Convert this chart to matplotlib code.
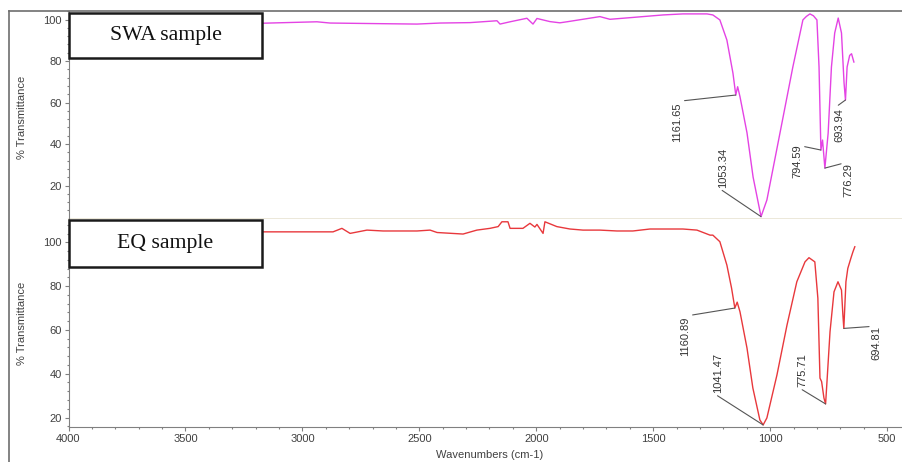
import numpy as np
import matplotlib
matplotlib.use("Agg")
import matplotlib.pyplot as plt
from matplotlib.lines import Line2D
from matplotlib.patches import Rectangle
from matplotlib.ticker import MultipleLocator

# ---------------- data ----------------
swa_wn = [4000, 3800, 3600, 3400, 3173, 2938, 2882, 2668, 2510, 2411, 2283, 2168, 2155,
          2112, 2040, 2014, 1997, 1942, 1899, 1869, 1728, 1685, 1587, 1458, 1373, 1270,
          1245, 1215, 1185, 1159, 1147, 1139, 1129, 1099, 1073, 1039, 1014, 958, 903,
          860, 845, 830, 815, 800, 791, 783, 776, 766, 752, 738, 724, 709, 695, 684,
          678, 671, 660, 652, 642]
swa_t = [98.0, 98.3, 97.9, 98.2, 98.2, 98.9, 98.3, 98.0, 97.8, 98.3, 98.5, 99.4, 97.8,
         98.9, 100.6, 97.8, 100.5, 99.0, 98.4, 98.9, 101.4, 100.1, 101.0, 102.2, 102.7, 102.7,
         102.2, 99.8, 90.1, 74.1, 63.6, 67.6, 62.8, 45.4, 24.1, 5.0, 13.0, 45.3, 77.1,
         99.8, 101.5, 102.7, 101.8, 99.8, 77.1, 37.1, 41.9, 28.4, 45.3, 77.1, 93.5, 100.7, 93.5, 69.4,
         61.2, 77.1, 82.7, 83.5, 79.5]

eq_wn = [4000, 3600, 3168, 2869, 2831, 2796, 2724, 2655, 2510, 2454, 2424, 2313, 2254,
         2198, 2163, 2147, 2121, 2112, 2057, 2027, 2006, 1997, 1971, 1963, 1912, 1856,
         1800, 1728, 1655, 1587, 1514, 1373, 1313, 1257, 1245, 1215, 1185, 1165, 1151,
         1141, 1129, 1099, 1074, 1044, 1030, 1014, 971, 928, 886, 851, 834, 809, 796,
         787, 780, 770, 763, 757, 744, 727, 710, 695, 689, 685, 676, 668, 655, 646, 638]
eq_t = [104.8, 104.8, 104.8, 104.8, 106.4, 104.1, 105.6, 105.2, 105.2, 105.6, 104.5, 103.8, 105.6,
        106.4, 107.2, 109.4, 109.4, 106.4, 106.4, 108.7, 107.0, 108.2, 104.1, 109.4, 107.2, 106.1,
        105.6, 105.6, 105.2, 105.2, 106.1, 106.1, 105.6, 103.3, 103.3, 100.3, 89.6, 79.1, 70.0,
        72.7, 68.3, 51.7, 33.5, 18.9, 16.6, 19.8, 39.4, 62.2, 82.0, 91.1, 93.0, 91.1, 74.5,
        38.0, 36.4, 28.9, 26.2, 36.4, 59.2, 77.4, 82.0, 78.2, 66.8, 60.7, 82.0, 88.1, 92.7, 95.7, 98.0]

swa_peak_wn = [1147, 1039, 783, 766, 678]
swa_peak_labels = ["1161.65", "1053.34", "794.59", "776.29", "693.94"]
eq_peak_wn = [1151, 1030, 763, 685]
eq_peak_labels = ["1160.89", "1041.47", "775.71", "694.81"]

x_ticks = [4000, 3500, 3000, 2500, 2000, 1500, 1000, 500]
y_ticks = [20, 40, 60, 80, 100]

# ---------------- layout ----------------
W, H = 903, 462
fig = plt.figure(figsize=(W / 100, H / 100), dpi=100)
fig.patch.set_facecolor("white")

L = 68.5 / W
ax1 = fig.add_axes([L, 1 - 218.5 / H, 1 - L, (218.5 - 11) / H])
ax2 = fig.add_axes([L, 1 - 426.7 / H, 1 - L, (426.7 - 218.5) / H])

tick_font = dict(family="Liberation Sans", size=8, color="#404040")
spine_col = "#808080"

for ax in (ax1, ax2):
    ax.set_xlim(4000, 432)
    ax.spines["right"].set_visible(False)
    ax.spines["top"].set_visible(False)
    ax.spines["left"].set_color(spine_col)
    ax.spines["left"].set_linewidth(0.8)
    ax.set_yticks(y_ticks)
    ax.yaxis.set_minor_locator(MultipleLocator(4))
    ax.tick_params(axis="y", which="major", direction="out", length=3, width=0.8,
                   color=spine_col, pad=2, labelsize=8, labelcolor="#404040")
    ax.tick_params(axis="y", which="minor", direction="out", length=1.5, width=0.8,
                   color=spine_col)
    for lab in ax.get_yticklabels():
        lab.set_family("Liberation Sans")

ax1.set_ylim(4.1, 104.1)
ax2.set_ylim(15.8, 110.9)

# top panel: beige divider instead of x axis
ax1.spines["bottom"].set_color("#e6e1cf")
ax1.spines["bottom"].set_linewidth(1.8)
ax1.set_xticks([])

ax2.spines["bottom"].set_color(spine_col)
ax2.spines["bottom"].set_linewidth(0.8)
ax2.set_xticks(x_ticks)
ax2.xaxis.set_minor_locator(MultipleLocator(100))
ax2.tick_params(axis="x", which="major", direction="out", length=3, width=0.8,
                color=spine_col, pad=2, labelsize=8, labelcolor="#404040")
ax2.tick_params(axis="x", which="minor", direction="out", length=1.5, width=0.8,
                color=spine_col)
for lab in ax2.get_xticklabels():
    lab.set_family("Liberation Sans")

ax1.plot(swa_wn, swa_t, color="#e443e4", lw=1.0)
ax2.plot(eq_wn, eq_t, color="#e8383c", lw=1.0)

# ---------------- peak annotations ----------------
ann_style = dict(textcoords="offset pixels", rotation=90, ha="center",
                 fontsize=8, family="Liberation Sans", color="#333333")

swa_offsets = [(-59, -7, "top", (0, 1)), (-38, 29, "bottom", (0, 0)),
               (-24, 6, "top", (0, 1)), (24, 5, "top", (0, 1)), (-6, -8, "top", (0, 1))]
eq_offsets = [(-50, -9, "top", (0, 1)), (-45, 32, "bottom", (0, 0)),
              (-23, 17, "bottom", (0, 0)), (33, 2, "top", (0, 1))]

def annotate(ax, wn, t, peaks, labels, offsets):
    xp = np.array(wn)[::-1]
    yp = np.array(t)[::-1]
    for pw, lab, (dx, dy, va, rel) in zip(peaks, labels, offsets):
        pv = np.interp(pw, xp, yp)
        ax.annotate(lab, xy=(pw, pv), xytext=(dx, dy), va=va,
                    arrowprops=dict(arrowstyle="-", color="#555555", lw=0.8,
                                    shrinkA=0, shrinkB=0, relpos=rel),
                    **ann_style)

annotate(ax1, swa_wn, swa_t, swa_peak_wn, swa_peak_labels, swa_offsets)
annotate(ax2, eq_wn, eq_t, eq_peak_wn, eq_peak_labels, eq_offsets)

# ---------------- labels ----------------
lab_font = dict(family="Liberation Sans", size=8, color="#404040")
fig.text(22 / W, 1 - 117 / H, "% Transmittance", rotation=90, ha="center", va="center", **lab_font)
fig.text(22 / W, 1 - 323 / H, "% Transmittance", rotation=90, ha="center", va="center", **lab_font)
fig.text(490 / W, 1 - 455 / H, "Wavenumbers (cm-1)", ha="center", va="center", **lab_font)

# sample boxes
for (x0, y0, x1, y1, txt) in [(69, 13, 262, 58.3, "SWA sample"), (69, 220, 262, 266.7, "EQ sample")]:
    fig.add_artist(Rectangle((x0 / W, 1 - y1 / H), (x1 - x0) / W, (y1 - y0) / H,
                             transform=fig.transFigure, facecolor="white",
                             edgecolor="#1a1a1a", lw=1.8, zorder=10))
    fig.text((x0 + x1) / 2 / W, 1 - (y0 + y1) / 2 / H, txt, ha="center", va="center",
             family="Liberation Serif", size=15.7, color="#111111", zorder=11)

# outer frame (left and top)
frame_y = 1 - 11 / H
fig.add_artist(Line2D([9 / W, 1], [frame_y, frame_y], transform=fig.transFigure,
                      color="#6e6e6e", lw=1.2, zorder=12))
fig.add_artist(Line2D([9 / W, 9 / W], [0, frame_y], transform=fig.transFigure,
                      color="#6e6e6e", lw=1.2, zorder=12))

fig.savefig("out.png", dpi=100)
